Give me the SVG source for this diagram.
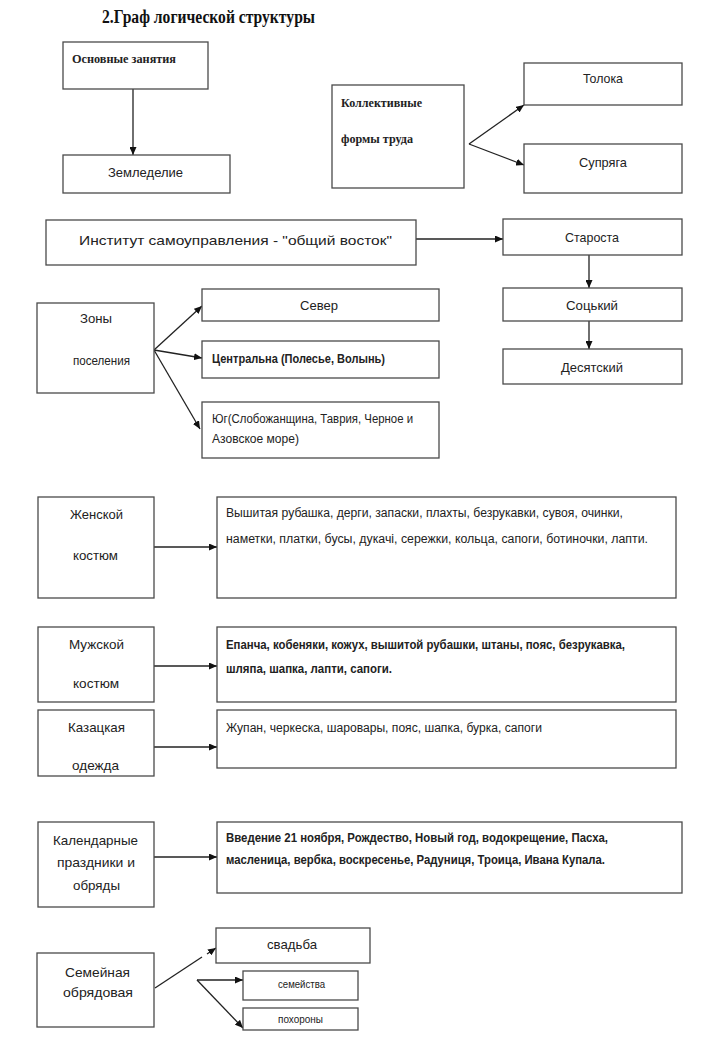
<svg xmlns="http://www.w3.org/2000/svg" width="718" height="1040" viewBox="0 0 718 1040">
<style>
.box{fill:#fff;stroke:#4a4a4a;stroke-width:1.3}
.t{font-family:"Liberation Sans","Open Sans",sans-serif;fill:#222;font-size:13px}
.s{font-family:"Liberation Serif","Times New Roman",serif;fill:#222;font-size:13px;font-weight:bold}
.b{font-weight:bold}
.sm{font-size:12px}
.xs{font-size:10px}
.c{stroke:#222;stroke-width:1.3;fill:none}
</style>
<defs>
<marker id="ah" markerWidth="8" markerHeight="7" refX="8" refY="3.5" orient="auto" markerUnits="userSpaceOnUse">
<path d="M0,0 L8,3.5 L0,7 z" fill="#111"/>
</marker>
</defs>
<rect width="718" height="1040" fill="#fff"/>
<text x="102" y="23" font-family="Liberation Serif,serif" font-weight="bold" font-size="18" fill="#111" textLength="213" lengthAdjust="spacingAndGlyphs">2.Граф логической структуры</text>

<g id="connectors">
<line class="c" x1="133" y1="89" x2="133" y2="155" marker-end="url(#ah)"/>
<line class="c" x1="469" y1="144" x2="524" y2="105" marker-end="url(#ah)"/>
<line class="c" x1="469" y1="144" x2="524" y2="165" marker-end="url(#ah)"/>
<line class="c" x1="416" y1="239" x2="503" y2="239" marker-end="url(#ah)"/>
<line class="c" x1="589" y1="255" x2="589" y2="288" marker-end="url(#ah)"/>
<line class="c" x1="589" y1="321" x2="589" y2="349" marker-end="url(#ah)"/>
<line class="c" x1="154" y1="350" x2="202" y2="306" marker-end="url(#ah)"/>
<line class="c" x1="154" y1="350" x2="202" y2="358" marker-end="url(#ah)"/>
<line class="c" x1="154" y1="350" x2="200" y2="429" marker-end="url(#ah)"/>
<line class="c" x1="154" y1="547" x2="217" y2="547" marker-end="url(#ah)"/>
<line class="c" x1="154" y1="666" x2="217" y2="666" marker-end="url(#ah)"/>
<line class="c" x1="154" y1="747" x2="217" y2="747" marker-end="url(#ah)"/>
<line class="c" x1="154" y1="857" x2="217" y2="857" marker-end="url(#ah)"/>
<line class="c" x1="155" y1="988" x2="202" y2="957"/>
<line class="c" x1="207" y1="954" x2="216" y2="948" marker-end="url(#ah)"/>
<line class="c" x1="197" y1="980" x2="243" y2="980" marker-end="url(#ah)"/>
<line class="c" x1="197" y1="980" x2="243" y2="1028" marker-end="url(#ah)"/>
</g>

<g id="osnovnye">
<rect class="box" x="63" y="42" width="145" height="47"/>
<text class="s" x="72" y="63" textLength="104" lengthAdjust="spacingAndGlyphs">Основные занятия</text>
</g>
<g id="zemledelie">
<rect class="box" x="63" y="155" width="167" height="38"/>
<text class="t" x="108" y="177" font-size="14" textLength="75" lengthAdjust="spacingAndGlyphs">Земледелие</text>
</g>
<g id="kollektivnye">
<rect class="box" x="332" y="85" width="132" height="103"/>
<text class="s" x="341" y="107" textLength="81" lengthAdjust="spacingAndGlyphs">Коллективные</text>
<text class="s" x="341" y="143" textLength="72" lengthAdjust="spacingAndGlyphs">формы труда</text>
</g>
<g id="toloka">
<rect class="box" x="524" y="63" width="158" height="42"/>
<text class="t" x="583" y="83" textLength="40" lengthAdjust="spacingAndGlyphs">Толока</text>
</g>
<g id="supryaga">
<rect class="box" x="524" y="144" width="158" height="49"/>
<text class="t" x="579" y="167" font-size="14" textLength="48" lengthAdjust="spacingAndGlyphs">Супряга</text>
</g>
<g id="institut">
<rect class="box" x="46" y="220" width="370" height="45"/>
<text class="t" x="79" y="245" font-size="17" textLength="313" lengthAdjust="spacingAndGlyphs">Институт самоуправления - "общий восток"</text>
</g>
<g id="starosta">
<rect class="box" x="503" y="219" width="179" height="36"/>
<text class="t" x="565" y="242" font-size="14" textLength="54" lengthAdjust="spacingAndGlyphs">Староста</text>
</g>
<g id="sotskiy">
<rect class="box" x="503" y="288" width="179" height="33"/>
<text class="t" x="566" y="310" font-size="14" textLength="52" lengthAdjust="spacingAndGlyphs">Соцький</text>
</g>
<g id="desyatskiy">
<rect class="box" x="503" y="349" width="179" height="35"/>
<text class="t" x="561" y="372" font-size="14" textLength="62" lengthAdjust="spacingAndGlyphs">Десятский</text>
</g>
<g id="zony">
<rect class="box" x="37" y="303" width="117" height="90"/>
<text class="t" x="80" y="323" font-size="14" textLength="32" lengthAdjust="spacingAndGlyphs">Зоны</text>
<text class="t" x="73" y="365" font-size="14" textLength="57" lengthAdjust="spacingAndGlyphs">поселения</text>
</g>
<g id="sever">
<rect class="box" x="202" y="289" width="237" height="32"/>
<text class="t" x="300" y="310" font-size="14" textLength="38" lengthAdjust="spacingAndGlyphs">Север</text>
</g>
<g id="centralna">
<rect class="box" x="202" y="341" width="237" height="37"/>
<text class="t sm b" x="212" y="363" textLength="173" lengthAdjust="spacingAndGlyphs">Центральна (Полесье, Волынь)</text>
</g>
<g id="yug">
<rect class="box" x="202" y="402" width="237" height="56"/>
<text class="t sm" x="212" y="423" textLength="201" lengthAdjust="spacingAndGlyphs">Юг(Слобожанщина, Таврия, Черное и</text>
<text class="t sm" x="212" y="443" textLength="87" lengthAdjust="spacingAndGlyphs">Азовское море)</text>
</g>
<g id="zhenskoy">
<rect class="box" x="38" y="497" width="116" height="101"/>
<text class="t" x="70" y="519" font-size="14" textLength="53" lengthAdjust="spacingAndGlyphs">Женской</text>
<text class="t sm" x="73" y="560" textLength="45" lengthAdjust="spacingAndGlyphs">костюм</text>
</g>
<g id="zhenskoy-list">
<rect class="box" x="217" y="497" width="459" height="101"/>
<text class="t sm" x="226" y="517" textLength="397" lengthAdjust="spacingAndGlyphs">Вышитая рубашка, дерги, запаски, плахты, безрукавки, сувоя, очинки,</text>
<text class="t sm" x="226" y="543" textLength="422" lengthAdjust="spacingAndGlyphs">наметки, платки, бусы, дукачі,  сережки, кольца, сапоги, ботиночки, лапти.</text>
</g>
<g id="muzhskoy">
<rect class="box" x="38" y="627" width="116" height="75"/>
<text class="t" x="69" y="649" font-size="14" textLength="55" lengthAdjust="spacingAndGlyphs">Мужской</text>
<text class="t sm" x="73" y="688" textLength="46" lengthAdjust="spacingAndGlyphs">костюм</text>
</g>
<g id="muzhskoy-list">
<rect class="box" x="217" y="627" width="459" height="75"/>
<text class="t sm b" x="226" y="649" textLength="399" lengthAdjust="spacingAndGlyphs">Епанча, кобеняки, кожух, вышитой рубашки, штаны, пояс, безрукавка,</text>
<text class="t sm b" x="226" y="673" textLength="166" lengthAdjust="spacingAndGlyphs">шляпа, шапка, лапти, сапоги.</text>
</g>
<g id="kazatskaya">
<rect class="box" x="38" y="710" width="116" height="66"/>
<text class="t" x="68" y="732" font-size="14" textLength="57" lengthAdjust="spacingAndGlyphs">Казацкая</text>
<text class="t" x="72" y="770" font-size="14" textLength="47" lengthAdjust="spacingAndGlyphs">одежда</text>
</g>
<g id="kazatskaya-list">
<rect class="box" x="217" y="710" width="459" height="58"/>
<text class="t sm" x="226" y="732" textLength="316" lengthAdjust="spacingAndGlyphs">Жупан, черкеска, шаровары, пояс, шапка, бурка, сапоги</text>
</g>
<g id="kalendarnye">
<rect class="box" x="38" y="822" width="116" height="85"/>
<text class="t" x="53" y="845" font-size="15" textLength="85" lengthAdjust="spacingAndGlyphs">Календарные</text>
<text class="t" x="57" y="867" font-size="15" textLength="78" lengthAdjust="spacingAndGlyphs">праздники и</text>
<text class="t" x="73" y="890" font-size="15" textLength="47" lengthAdjust="spacingAndGlyphs">обряды</text>
</g>
<g id="kalendarnye-list">
<rect class="box" x="217" y="822" width="465" height="71"/>
<text class="t sm b" x="226" y="842" textLength="382" lengthAdjust="spacingAndGlyphs">Введение 21 ноября, Рождество, Новый год, водокрещение, Пасха,</text>
<text class="t sm b" x="226" y="864" textLength="379" lengthAdjust="spacingAndGlyphs">масленица, вербка, воскресенье, Радуниця, Троица, Ивана Купала.</text>
</g>
<g id="semeynaya">
<rect class="box" x="37" y="953" width="117" height="74"/>
<text class="t" x="65" y="977" font-size="15" textLength="65" lengthAdjust="spacingAndGlyphs">Семейная</text>
<text class="t" x="63" y="997" font-size="15" textLength="70" lengthAdjust="spacingAndGlyphs">обрядовая</text>
</g>
<g id="svadba">
<rect class="box" x="216" y="928" width="154" height="35"/>
<text class="t" x="267" y="949" font-size="15" textLength="50" lengthAdjust="spacingAndGlyphs">свадьба</text>
</g>
<g id="semeystva">
<rect class="box" x="243" y="971" width="115" height="29"/>
<text class="t xs" x="278" y="988" textLength="47" lengthAdjust="spacingAndGlyphs">семейства</text>
</g>
<g id="pokhorony">
<rect class="box" x="243" y="1008" width="115" height="22"/>
<text class="t xs" x="278" y="1023" textLength="45" lengthAdjust="spacingAndGlyphs">похороны</text>
</g>
</svg>
